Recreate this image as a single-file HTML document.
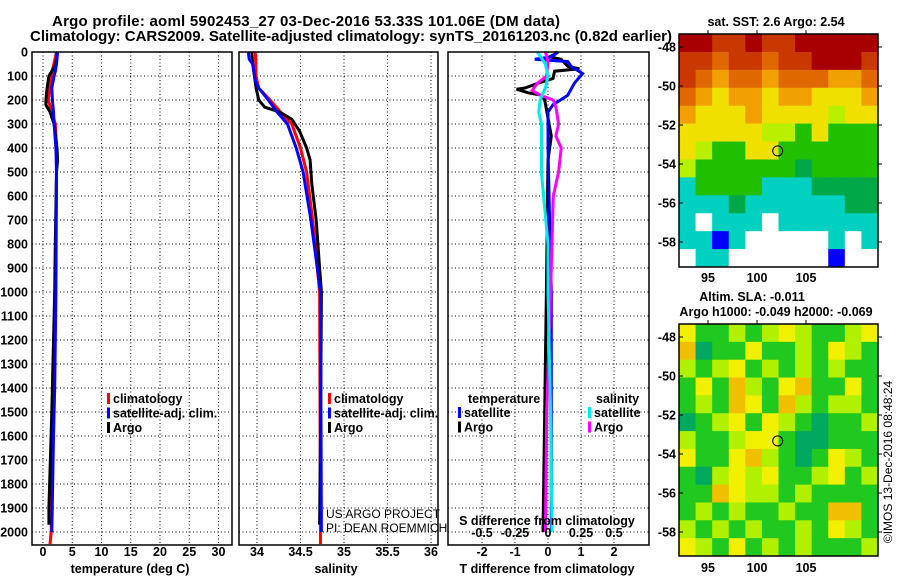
<!DOCTYPE html>
<html><head><meta charset="utf-8"><style>
body{margin:0;background:#fff;}
svg{display:block;font-family:"Liberation Sans",sans-serif;font-weight:bold;}
</style></head><body>
<svg id="c" width="900" height="580" viewBox="0 0 900 580">
<text x="306" y="26" font-size="15" text-anchor="middle" textLength="508">Argo profile: aoml 5902453_27 03-Dec-2016 53.33S 101.06E (DM data)</text>
<text x="351" y="41" font-size="15" text-anchor="middle" textLength="642">Climatology: CARS2009. Satellite-adjusted climatology: synTS_20161203.nc (0.82d earlier)</text>
<g id="g"></g>
</svg>
<script>
// ---- data ----
const depthTicks=[0,100,200,300,400,500,600,700,800,900,1000,1100,1200,1300,1400,1500,1600,1700,1800,1900,2000];
const tempTicks=[0,5,10,15,20,25,30];
const salTicks=[34,34.5,35,35.5,36];
const salTickLabels=['34','34.5','35','35.5','36'];
const tdiffTicks=[-2,-1,0,1,2];
const sdiffTicks=[-0.5,-0.25,0,0.25,0.5];
const sdiffTickLabels=['-0.5','-0.25','0','0.25','0.5'];

const climTD=[0,100,200,250,300,400,500,1000,1500,2000,2050];
const climT=[2.3,1.4,0.9,1.5,2.1,2.3,2.3,2.1,1.7,1.4,1.2];
const satTD=[0,50,80,100,150,200,250,300,400,500,1000,1400,1600,2000];
const satT=[2.5,2.3,2.1,1.9,1.5,1.6,1.8,1.9,2.2,2.3,2.2,2.0,1.8,1.5];
const argoTD=[0,50,80,100,150,200,220,250,300,400,450,500,800,1000,1500,1900,1970];
const argoT=[2.4,2.2,1.5,1.0,0.7,0.5,0.5,1.2,1.9,2.4,2.5,2.3,2.1,2.0,1.5,1.0,1.0];

const climSD=[0,100,150,200,250,300,400,500,700,1000,2050];
const climS=[33.98,33.99,34.02,34.15,34.27,34.4,34.5,34.57,34.64,34.72,34.73];
const satSD=[0,30,50,120,150,200,250,300,400,500,700,1000,2000];
const satS=[33.9,33.91,33.95,33.98,34.02,34.13,34.23,34.35,34.45,34.53,34.62,34.73,34.74];
const argoSD=[0,50,150,200,230,250,280,330,400,450,550,700,900,1000,1600,1970];
const argoS=[33.94,33.95,33.99,34.02,34.09,34.26,34.4,34.49,34.57,34.61,34.63,34.68,34.72,34.74,34.73,34.72];

const satTdD=[0,20,30,40,60,90,130,180,220,250,400,700,1000,1500,2000];
const satTd=[0.3,0.1,-0.4,0.6,0.7,1.05,0.8,0.6,0.15,0,0,0.05,0.1,0.1,0.1];
const argoTdD=[0,10,20,30,60,70,80,110,130,150,155,170,180,200,350,450,1000,2000];
const argoTd=[0.3,0.2,0.05,0.4,0.6,0.95,0.2,0.15,-0.3,-0.7,-0.95,-0.6,-0.2,-0.1,0.1,0,-0.05,-0.15];
const argoSdD=[0,40,100,130,160,180,200,230,300,350,400,500,600,1000,1500,2000];
const argoSd=[-0.02,0,-0.01,-0.08,-0.12,-0.06,0.04,0.06,0.08,0.06,0.1,0.08,0.04,0.02,-0.01,-0.02];
const satSdD=[0,50,100,150,200,250,300,500,800,1000,1500,2000];
const satSd=[-0.08,-0.02,0,-0.02,-0.06,-0.07,-0.05,-0.05,0,0,0.02,0.03];

const sstPalette=['#a80000','#c83800','#e06800','#f0a000','#f0e000','#b8f000','#20c000','#00a848','#00d0c0','#0000ff','#ffffff'];
const sstGrid=[
[0,0,1,1,0,1,1,0,0,0,0,0],
[1,1,2,1,1,2,1,1,0,0,0,1],
[1,2,3,2,2,3,2,2,2,3,3,2],
[2,3,4,3,3,4,3,3,4,4,4,3],
[3,4,4,4,3,4,4,4,4,5,4,4],
[4,4,4,4,4,5,5,6,4,6,6,6],
[4,5,6,6,4,4,6,6,6,6,6,6],
[5,6,6,6,6,6,6,7,6,6,6,6],
[8,6,6,6,6,8,8,8,7,7,7,7],
[8,8,8,7,8,8,8,8,8,8,7,7],
[8,10,8,8,8,10,8,8,8,8,8,8],
[8,8,9,8,10,10,10,10,10,8,10,8],
[10,8,8,10,10,10,10,10,10,9,10,10]];
const slaPalette=['#00a860','#20c820','#b0f000','#f0f000','#f0c000'];
const slaGrid=[
[3,1,1,2,1,2,3,2,1,1,2,3],
[4,0,1,1,3,1,1,2,1,3,2,1],
[2,1,2,3,1,2,1,2,1,2,1,1],
[1,3,1,4,2,1,3,4,1,1,3,1],
[1,2,1,4,3,1,4,2,1,2,2,1],
[0,1,2,3,1,3,2,1,0,1,1,2],
[2,1,1,2,3,3,1,0,0,1,1,1],
[3,1,1,3,4,2,1,0,1,3,2,1],
[1,0,2,3,2,3,1,1,2,3,1,2],
[1,1,4,3,2,2,1,2,1,1,1,1],
[1,2,1,2,1,1,2,1,1,4,4,1],
[2,1,2,1,2,1,1,2,1,3,2,1],
[3,2,1,3,1,2,1,2,1,1,1,2]];
const latTicks=[-48,-50,-52,-54,-56,-58];
const lonTicks=[95,100,105];

// ---- helpers ----
const NS='http://www.w3.org/2000/svg';
const G=document.getElementById('g');
function mk(tag,at,parent){const e=document.createElementNS(NS,tag);for(const k in at)e.setAttribute(k,at[k]);(parent||G).appendChild(e);return e;}
function txt(x,y,s,size,anchor,parent){const t=mk('text',{x:x,y:y,'font-size':size,'text-anchor':anchor||'start'},parent);t.textContent=s;return t;}
const yD=d=>52+d*0.24;
const PTOP=52,PBOT=545;

function panel(nm,x0,x1,xs,ticks){
  const g=mk('g',{});
  
  
  depthTicks.forEach(d=>mk('line',{x1:x0,x2:x1,y1:yD(d),y2:yD(d),stroke:'#000','stroke-width':1,'stroke-dasharray':'1,2.5'},g));
  ticks.forEach(v=>mk('line',{x1:xs(v),x2:xs(v),y1:PTOP,y2:PBOT,stroke:'#000','stroke-width':1,'stroke-dasharray':'1,2.5'},g));
  return g;
}
function border(x0,x1){const r=mk('rect',{x:x0,y:PTOP,width:x1-x0,height:PBOT-PTOP,fill:'none',stroke:'#000','stroke-width':1.5});}
function prof(nm,ds,vs,xs,col,w){
  let p='';
  for(let i=0;i<ds.length;i++){p+=(i?'L':'M')+xs(vs[i]).toFixed(1)+','+yD(ds[i]).toFixed(1);}
  const e=mk('path',{d:p,fill:'none',stroke:col,'stroke-width':w||3});
  
  
}
function legend(x,y,items,nm){
  const g=mk('g',{});
  
  
  items.forEach((it,i)=>{
    mk('rect',{x:x,y:y+i*14.5-10,width:3,height:11,fill:it[1]},g);
    txt(x+6,y+i*14.5,it[0],12.5,'start',g);
  });
}
function lbl(x,y,s,size,anchor,nm){const t=txt(x,y,s,size,anchor);return t;}

// ---- panel 1: temperature ----
const xT=v=>43+v*5.85;
panel('temperature-grid',32,232,xT,tempTicks);
prof('climatology-temperature',climTD,climT,xT,'#ff0000');
prof('argo-temperature',argoTD,argoT,xT,'#000000');
prof('satellite-temperature',satTD,satT,xT,'#0000ff');
border(32,232);
depthTicks.forEach(d=>lbl(28,yD(d)+4.5,String(d),12.5,'end','depth-tick-label'));
tempTicks.forEach(v=>lbl(xT(v),556,String(v),12.5,'middle','temperature-tick-label'));
lbl(130,573,'temperature (deg C)',12.5,'middle','x-axis-title-temperature');
legend(107,403,[['climatology','#ff0000'],['satellite-adj. clim.','#0000ff'],['Argo','#000']],'temperature-legend');

// ---- panel 2: salinity ----
const xS=v=>257+(v-34)*87;
panel('salinity-grid',239,438,xS,salTicks);
prof('climatology-salinity',climSD,climS,xS,'#ff0000');
prof('argo-salinity',argoSD,argoS,xS,'#000000');
prof('satellite-salinity',satSD,satS,xS,'#0000ff');
border(239,438);
salTicks.forEach((v,i)=>lbl(xS(v),556,salTickLabels[i],12.5,'middle','salinity-tick-label'));
lbl(336,573,'salinity',12.5,'middle','x-axis-title-salinity');
legend(328,403,[['climatology','#ff0000'],['satellite-adj. clim.','#0000ff'],['Argo','#000']],'salinity-legend');
{const g=mk('g',{'font-weight':'normal'});
 txt(326,518,'US ARGO PROJECT',12,'start',g);txt(326,532,'PI: DEAN ROEMMICH',12,'start',g);}

// ---- panel 3: differences ----
const xTd=v=>548+v*33;
const xSd=v=>548+v*132;
panel('difference-grid',448,649,xTd,tdiffTicks);
prof('argo-temperature-difference',argoTdD,argoTd,xTd,'#000000');
prof('satellite-temperature-difference',satTdD,satTd,xTd,'#0000ff');
prof('argo-salinity-difference',argoSdD,argoSd,xSd,'#ff00ff');
prof('satellite-salinity-difference',satSdD,satSd,xSd,'#00e8e8');
border(448,649);
tdiffTicks.forEach(v=>lbl(xTd(v),556,String(v),12.5,'middle','t-difference-tick-label'));
sdiffTicks.forEach((v,i)=>lbl(xSd(v),537,sdiffTickLabels[i],12.5,'middle','s-difference-tick-label'));
lbl(547,525,'S difference from climatology',12.5,'middle','s-difference-title');
lbl(547,573,'T difference from climatology',12.5,'middle','t-difference-title');
lbl(468,403,'temperature',12.5,'start','legend-temperature-header');
legend(458,417,[['satellite','#0000ff'],['Argo','#000']],'temperature-diff-legend');
lbl(596,403,'salinity',12.5,'start','legend-salinity-header');
legend(588,417,[['satellite','#00e8e8'],['Argo','#ff00ff']],'salinity-diff-legend');

// ---- maps ----
const lonX=v=>708+(v-95)*11.5;
const lonLabelX=v=>708+(v-95)*9.8;
function map(nm,y0,y1,pal,grid,latY,lblY){
  const x0=679,x1=878;
  const g=mk('g',{});
  
  
  const rows=grid.length,cols=grid[0].length,cw=(x1-x0)/cols,ch=(y1-y0)/rows;
  grid.forEach((row,r)=>row.forEach((v,c)=>{
    mk('rect',{x:x0+c*cw,y:y0+r*ch,width:cw+0.5,height:ch+0.5,fill:pal[v]},g);
  }));
  mk('rect',{x:x0,y:y0,width:x1-x0,height:y1-y0,fill:'none',stroke:'#000','stroke-width':1.5},g);
  latTicks.forEach(l=>{const y=latY(l);
    mk('line',{x1:x0,x2:x0+4,y1:y,y2:y,stroke:'#000'},g);
    mk('line',{x1:x1,x2:x1+4,y1:y,y2:y,stroke:'#000'},g);
    txt(676,y+4.5,String(l),12.5,'end',g);});
  lonTicks.forEach(l=>{mk('line',{x1:lonLabelX(l),x2:lonLabelX(l),y1:y0-4,y2:y0,stroke:'#000'},g);txt(lonLabelX(l),lblY,String(l),12.5,'middle',g);});
  const c=mk('circle',{cx:lonX(101.06),cy:latY(-53.33),r:5,fill:'none',stroke:'#000','stroke-width':1},g);
  
  
}
map('sst-map',34,267,sstPalette,sstGrid,l=>47+(-48-l)*19.5,282);
map('sla-map',324,556,slaPalette,slaGrid,l=>337+(-48-l)*19.5,572);
lbl(776,26,'sat. SST: 2.6 Argo: 2.54',12.5,'middle','sst-map-title');
lbl(752,301,'Altim. SLA: -0.011',12.5,'middle','sla-map-title');
lbl(776,316,'Argo h1000: -0.049 h2000: -0.069',12.5,'middle','sla-map-subtitle');
{const t=lbl(0,0,'©IMOS 13-Dec-2016 08:48:24',12,'middle','imos-timestamp');t.setAttribute('font-weight','normal');t.setAttribute('transform','translate(892,462) rotate(-90)');}
</script>
</body></html>
